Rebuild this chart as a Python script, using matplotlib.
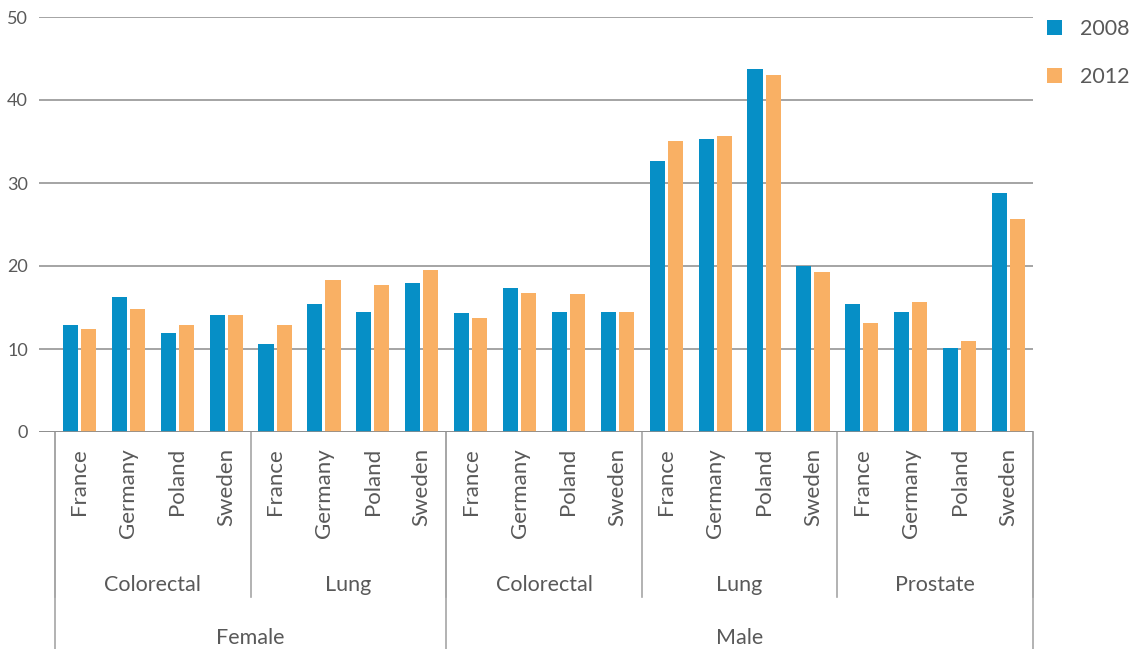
import matplotlib.pyplot as plt
import matplotlib.transforms as mtransforms
import numpy as np

plt.rcParams['font.family'] = ['Lato', 'DejaVu Sans']

# Cancer incidence by sex, site and country
sexes = ["Female", "Male"]
sites = ["Colorectal", "Lung", "Colorectal", "Lung", "Prostate"]
site_sex = [0, 0, 1, 1, 1]
countries = ["France", "Germany", "Poland", "Sweden"]

values_2008 = [12.9, 16.3, 11.9, 14.1,
               10.6, 15.4, 14.5, 18.0,
               14.3, 17.3, 14.5, 14.5,
               32.7, 35.3, 43.7, 20.0,
               15.4, 14.5, 10.1, 28.8]
values_2012 = [12.4, 14.8, 12.9, 14.1,
               12.9, 18.3, 17.7, 19.5,
               13.7, 16.7, 16.6, 14.5,
               35.1, 35.7, 43.0, 19.3,
               13.1, 15.7, 11.0, 25.7]

W, H = 1136, 649
fig = plt.figure(figsize=(W / 100, H / 100), dpi=100)
ax = fig.add_axes([39 / W, (H - 432) / H, 994 / W, 415 / H])

blue = '#068FC6'
orange = '#F9B064'
grey_text = '#595959'
grid_col = '#8C8C8C'

x = np.arange(len(values_2008))
bw = 0.31
b1 = ax.bar(x - 0.185, values_2008, bw, color=blue, label='2008', zorder=3)
b2 = ax.bar(x + 0.185, values_2012, bw, color=orange, label='2012', zorder=3)

ax.set_xlim(-0.5 - 16 / 48.9, len(x) - 0.5)
ax.set_ylim(0, 50)
ax.set_yticks([0, 10, 20, 30, 40, 50])
ax.yaxis.grid(True, color=grid_col, linewidth=1.1)
ax.set_axisbelow(True)
for s in ax.spines.values():
    s.set_visible(False)
ax.tick_params(axis='y', length=0, labelsize=13, labelcolor=grey_text, pad=8)
ax.set_xticks([])

# hierarchical category labels below the axis
trans = mtransforms.blended_transform_factory(ax.transData, ax.transAxes)


def py(p):
    return (432 - p) / 415


sep_col = '#A6A6A6'
for i, xi in enumerate(x):
    ax.text(xi, py(448), countries[i % 4], rotation=90, ha='center', va='top',
            fontsize=16, color=grey_text, transform=trans)

for k, name in enumerate(sites):
    ax.text(4 * k + 1.5, py(585), name, ha='center', va='center',
            fontsize=15.5, color=grey_text, transform=trans)
for k in range(len(sites) + 1):
    ax.plot([4 * k - 0.5] * 2, [py(432), py(597)], color=sep_col, lw=1.2,
            transform=trans, clip_on=False)

bounds = [-0.5]
for k, name in enumerate(sexes):
    idx = [i for i, s in enumerate(site_sex) if s == k]
    lo, hi = 4 * idx[0] - 0.5, 4 * idx[-1] + 3.5
    bounds.append(hi)
    ax.text((lo + hi) / 2, py(638), name, ha='center', va='center',
            fontsize=15.5, color=grey_text, transform=trans)
for b in bounds:
    ax.plot([b] * 2, [py(432), py(H + 5)], color=sep_col, lw=1.2,
            transform=trans, clip_on=False)

ax.axhline(0, color=grid_col, lw=1.2, zorder=4)

fig.legend(handles=[b1, b2], loc='upper left',
           bbox_to_anchor=(1028 / W, 1 + 0 / H), frameon=False,
           fontsize=15.5, labelcolor=grey_text, handlelength=0.68,
           handleheight=0.68, labelspacing=1.3, handletextpad=0.85)

fig.savefig('out.png', dpi=100, facecolor='white')
